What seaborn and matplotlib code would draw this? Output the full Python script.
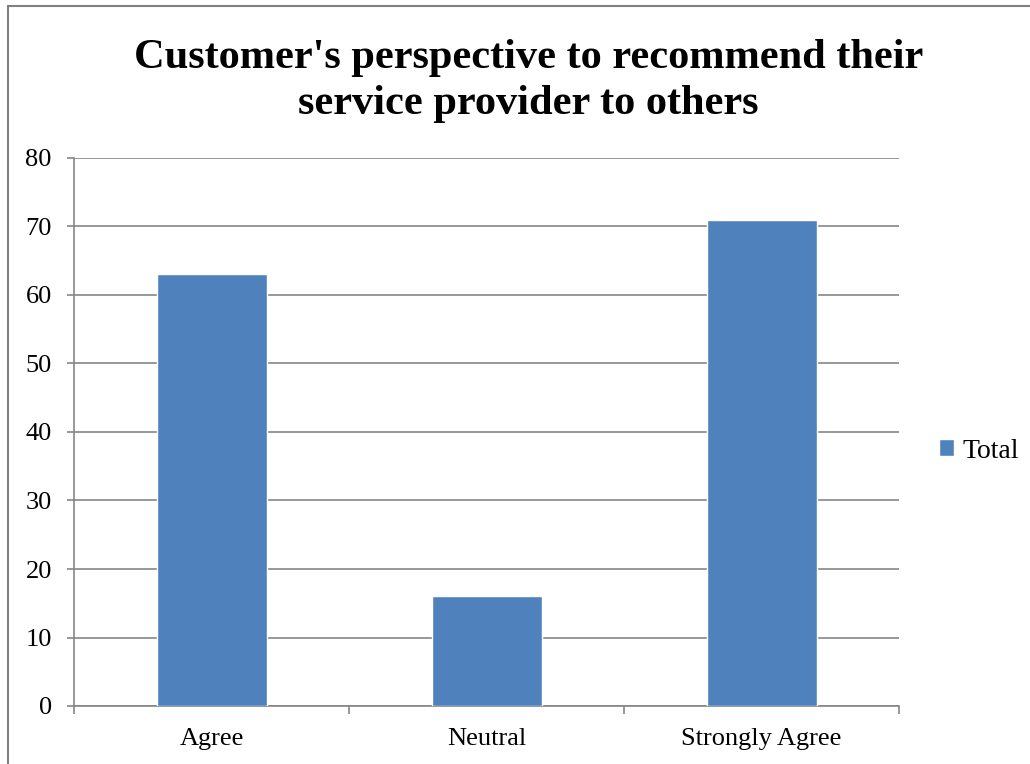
import matplotlib
matplotlib.use("Agg")
import matplotlib.pyplot as plt
from matplotlib.lines import Line2D
import seaborn as sns
import pandas as pd

categories = ["Agree", "Neutral", "Strongly Agree"]
totals = [63, 16, 71]
yticks = [0, 10, 20, 30, 40, 50, 60, 70, 80]
title = "Customer's perspective to recommend their\nservice provider to others"
series_name = "Total"

sns.set_theme(style="white")
plt.rcParams["font.family"] = ["Liberation Serif", "DejaVu Serif"]
plt.rcParams["text.color"] = "black"

bar_color = "#4F81BD"
grid_color = "#868686"

df = pd.DataFrame({"category": categories, "total": totals})

fig = plt.figure(figsize=(10.30, 7.64), dpi=100)
ax = fig.add_axes([74 / 1030, 1 - 706 / 764, (899 - 74) / 1030, (706 - 158) / 764])

sns.barplot(data=df, x="category", y="total", color=bar_color, width=0.4,
            saturation=1, ax=ax, label=series_name, zorder=3, legend=False)
if ax.get_legend() is not None:
    ax.get_legend().remove()

ax.set_ylim(0, 80)
ax.set_xlim(-0.5, 2.5)
ax.set_yticks(yticks)
ax.set_xlabel("")
ax.set_ylabel("")

ax.yaxis.grid(True, color=grid_color, linewidth=1.2, zorder=0)
ax.set_axisbelow(True)
for side in ["top", "right"]:
    ax.spines[side].set_visible(False)
for side in ["left", "bottom"]:
    ax.spines[side].set_color(grid_color)
    ax.spines[side].set_linewidth(1.2)

ax.tick_params(axis="y", which="major", left=True, length=5, width=1.2,
               color=grid_color, labelsize=19, pad=11, labelcolor="black")
ax.tick_params(axis="x", which="major", bottom=False, length=0, labelsize=19,
               pad=16, labelcolor="black")
ax.set_xticks([-0.5, 0.5, 1.5, 2.5], minor=True)
ax.tick_params(axis="x", which="minor", bottom=True, length=6, width=1.2,
               color=grid_color)

fig.suptitle(title, x=(74 + 899) / 2 / 1030 + 0.041, y=1 - 39 / 764,
             fontsize=30.5, fontweight="bold", va="top", linespacing=1.28,
             color="black")

handles, labels = ax.get_legend_handles_labels()
fig.legend(handles[:1], labels[:1], loc="center left",
           bbox_to_anchor=(914 / 1030, 1 - 451 / 764),
           frameon=False, fontsize=20, handlelength=0.55, handleheight=0.55,
           handletextpad=0.3, labelcolor="black")

# figure frame on the left and top edges
fig.add_artist(Line2D([8 / 1030, 8 / 1030], [0, 1 - 6 / 764], transform=fig.transFigure,
                      color="#808080", linewidth=1.5))
fig.add_artist(Line2D([8 / 1030, 1], [1 - 6 / 764, 1 - 6 / 764], transform=fig.transFigure,
                      color="#808080", linewidth=1.5))

fig.savefig("out.png", dpi=100)
